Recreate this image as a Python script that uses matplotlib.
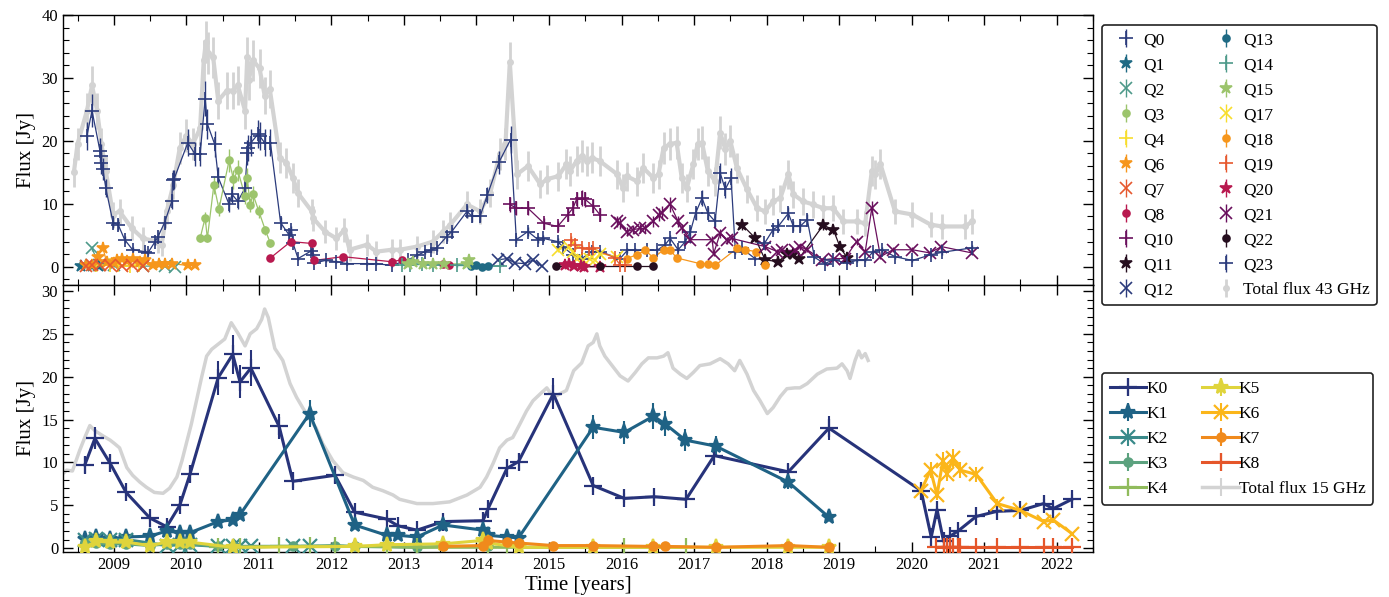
import matplotlib
matplotlib.use("Agg")
import matplotlib.pyplot as plt
import numpy as np
from matplotlib.ticker import MultipleLocator

plt.rcParams['font.family'] = ['Liberation Serif', 'DejaVu Serif']
plt.rcParams['font.size'] = 12

# ---------------- 43 GHz components (top panel) ----------------
TOT43_t = [2008.45, 2008.50, 2008.63, 2008.70, 2008.77, 2008.83, 2008.89, 2008.99, 2009.08, 2009.25,
           2009.40, 2009.61, 2009.66, 2009.73, 2009.82, 2009.91, 2010.00, 2010.09, 2010.19, 2010.24,
           2010.27, 2010.30, 2010.37, 2010.44, 2010.56, 2010.64, 2010.71, 2010.81, 2010.84, 2010.86,
           2010.92, 2011.01, 2011.08, 2011.15, 2011.29, 2011.38, 2011.47, 2011.54, 2011.73, 2011.75,
           2011.91, 2012.07, 2012.18, 2012.25, 2012.49, 2012.62, 2012.83, 2012.94, 2013.18, 2013.40,
           2013.54, 2013.64, 2013.87, 2014.05, 2014.19, 2014.32, 2014.40, 2014.46, 2014.56, 2014.71,
           2014.88, 2014.97, 2015.13, 2015.24, 2015.29, 2015.38, 2015.45, 2015.52, 2015.59, 2015.70,
           2015.94, 2016.02, 2016.07, 2016.21, 2016.30, 2016.44, 2016.51, 2016.58, 2016.67, 2016.76,
           2016.83, 2016.90, 2016.99, 2017.05, 2017.11, 2017.19, 2017.29, 2017.36, 2017.43, 2017.50,
           2017.59, 2017.73, 2017.87, 2017.98, 2018.09, 2018.19, 2018.30, 2018.37, 2018.50, 2018.64,
           2018.78, 2018.92, 2019.06, 2019.24, 2019.36, 2019.45, 2019.50, 2019.57, 2019.77, 2020.01,
           2020.26, 2020.42, 2020.74, 2020.83]
TOT43_f = [15.0, 19.5, 24.8, 28.8, 24.8, 19.5, 15.2, 8.3, 8.8, 6.1,
           4.5, 4.0, 3.5, 8.8, 13.0, 18.9, 20.8, 19.5, 22.0, 32.8,
           35.7, 34.0, 33.3, 26.4, 28.0, 28.0, 28.8, 24.8, 33.3, 29.6,
           32.8, 31.5, 27.2, 28.3, 17.3, 16.5, 14.1, 11.7, 8.8, 7.7,
           5.6, 4.5, 5.9, 2.7, 3.5, 2.4, 2.7, 2.7, 3.2, 4.0,
           5.6, 6.7, 9.9, 8.8, 11.7, 17.9, 19.5, 32.5, 14.7, 16.0,
           13.1, 13.9, 14.4, 16.3, 15.2, 16.8, 17.6, 16.8, 17.3, 16.8,
           14.7, 12.5, 14.4, 13.6, 15.7, 14.1, 14.7, 18.9, 19.5, 19.7,
           14.1, 12.5, 16.3, 19.5, 19.7, 15.2, 13.6, 21.3, 18.7, 20.0,
           15.7, 12.3, 9.3, 8.8, 10.4, 10.9, 14.7, 11.5, 10.4, 9.9,
           9.3, 9.3, 7.2, 7.2, 6.9, 15.2, 14.7, 16.3, 8.8, 8.3,
           6.7, 6.4, 6.4, 7.2]

Q0_t = [2008.63, 2008.70, 2008.81, 2008.82, 2008.83, 2008.85, 2008.89, 2008.99, 2009.06, 2009.15,
        2009.26, 2009.43, 2009.47, 2009.57, 2009.61, 2009.70, 2009.80, 2009.81, 2009.83, 2010.02,
        2010.12, 2010.19, 2010.26, 2010.29, 2010.39, 2010.44, 2010.59, 2010.63, 2010.71, 2010.81,
        2010.84, 2010.85, 2010.89, 2010.99, 2011.01, 2011.08, 2011.16, 2011.30, 2011.42, 2011.45,
        2011.47, 2011.54, 2011.72, 2011.75, 2011.76, 2011.92, 2012.07, 2012.21, 2012.49, 2012.62,
        2012.83, 2013.06, 2013.18, 2013.29, 2013.38, 2013.45, 2013.59, 2013.66, 2013.87, 2013.94,
        2014.05, 2014.15, 2014.31, 2014.47, 2014.55, 2014.71, 2014.85, 2014.92, 2015.12, 2015.19,
        2015.33, 2015.45, 2015.59, 2015.70, 2015.98, 2016.08, 2016.19, 2016.35, 2016.49, 2016.60,
        2016.67, 2016.78, 2016.88, 2016.95, 2017.02, 2017.11, 2017.19, 2017.29, 2017.36, 2017.43,
        2017.51, 2017.57, 2017.66, 2017.84]
Q0_f = [20.8, 24.8, 18.4, 17.6, 16.5, 15.5, 12.5, 7.0, 6.7, 4.3,
        2.7, 2.4, 2.2, 4.0, 4.8, 7.0, 10.4, 13.8, 13.9, 19.7,
        17.9, 17.9, 26.7, 22.7, 19.5, 14.2, 9.9, 11.5, 10.4, 12.5,
        18.1, 18.9, 19.7, 21.1, 20.8, 19.7, 19.7, 7.0, 5.0, 5.8,
        3.8, 1.3, 2.5, 1.9, 0.6, 1.0, 0.8, 0.5, 0.5, 0.5,
        0.2, 1.1, 1.8, 2.4, 2.7, 3.0, 4.8, 5.6, 8.8, 8.0,
        8.0, 11.4, 16.6, 20.2, 4.3, 5.6, 4.3, 4.5, 4.0, 3.2,
        1.9, 1.3, 2.4, 2.4, 1.3, 2.6, 2.6, 2.6, 2.6, 3.5,
        4.5, 2.7, 4.0, 5.6, 8.5, 10.9, 8.5, 7.2, 14.9, 12.3,
        14.1, 2.4, 2.9, 1.3]
Q1_t = [2008.55, 2008.62, 2008.70, 2008.80]
Q1_f = [0.1, 0.2, 0.1, 0.1]
Q2_t = [2008.70, 2008.80, 2009.00, 2009.40, 2009.70, 2009.85]
Q2_f = [2.9, 0.3, 0.2, 0.1, 0.1, 0.0]
Q3_t = [2010.19, 2010.26, 2010.29, 2010.38, 2010.45, 2010.59, 2010.65, 2010.71, 2010.81, 2010.84,
        2010.88, 2010.92, 2011.00, 2011.09, 2011.16]
Q3_f = [4.5, 7.8, 4.5, 13.0, 9.2, 16.9, 13.9, 15.3, 11.2, 14.1, 9.8, 11.5, 8.8, 5.8, 3.7]
Q4_t = [2008.75, 2008.95, 2009.06, 2009.22, 2009.35]
Q4_f = [0.3, 0.2, 0.2, 0.1, 0.3]
Q6_t = [2008.62, 2008.70, 2008.78, 2008.85, 2008.90, 2009.00, 2009.04, 2009.11, 2009.18, 2009.26,
        2009.36, 2009.43, 2009.54, 2009.62, 2009.71, 2009.80, 2010.02, 2010.12]
Q6_f = [0.2, 0.3, 1.6, 3.0, 0.8, 0.6, 1.1, 1.3, 0.9, 1.3, 0.8, 1.1, 0.3, 0.5, 0.5, 0.5, 0.2, 0.2]
Q7_t = [2008.62, 2008.70, 2008.81, 2008.95, 2009.11, 2009.25, 2009.40]
Q7_f = [0.1, 0.2, 0.3, 0.2, 0.1, 0.2, 0.1]
Q8_t = [2011.16, 2011.44, 2011.73, 2011.76, 2012.16, 2012.83, 2012.97, 2013.54, 2013.62]
Q8_f = [1.4, 4.0, 3.7, 1.0, 1.6, 0.8, 1.1, 0.4, 0.3]
Q10_t = [2014.46, 2014.55, 2014.71, 2014.93, 2015.12, 2015.26, 2015.33, 2015.38, 2015.45, 2015.50,
         2015.61, 2015.70]
Q10_f = [9.9, 9.3, 9.3, 6.9, 6.4, 8.3, 9.3, 10.7, 10.9, 10.7, 9.6, 8.3]
Q11_t = [2017.66, 2017.84, 2017.98, 2018.16, 2018.28, 2018.37, 2018.44, 2018.78, 2018.92, 2019.01, 2019.11]
Q11_f = [6.7, 4.6, 1.1, 0.8, 2.0, 2.1, 1.2, 6.6, 5.9, 3.2, 1.4]
Q12_t = [2014.30, 2014.42, 2014.53, 2014.67, 2014.78, 2014.90]
Q12_f = [1.1, 1.3, 0.6, 0.5, 1.1, 0.1]
Q13_t = [2013.92, 2014.00, 2014.08, 2014.16]
Q13_f = [0.1, 0.2, 0.0, 0.1]
Q14_t = [2012.97, 2013.08, 2013.25, 2013.40, 2013.73, 2014.32]
Q14_f = [0.3, 0.2, 0.4, 0.3, 0.2, 0.1]
Q15_t = [2013.05, 2013.13, 2013.26, 2013.40, 2013.55, 2013.87, 2013.90]
Q15_f = [0.4, 0.8, 0.5, 0.5, 0.4, 0.5, 1.0]
Q17_t = [2015.13, 2015.27, 2015.33, 2015.38, 2015.47, 2015.57, 2015.64, 2015.70, 2015.94]
Q17_f = [2.7, 3.2, 2.4, 1.3, 1.1, 1.3, 1.1, 2.1, 1.6]
Q18_t = [2016.07, 2016.21, 2016.33, 2016.44, 2016.58, 2016.67, 2016.76, 2017.08, 2017.19, 2017.29,
         2017.59, 2017.70, 2017.86, 2017.98]
Q18_f = [1.3, 1.9, 2.6, 1.4, 2.7, 2.7, 1.4, 0.5, 0.5, 0.2, 2.9, 2.7, 2.4, 0.3]
Q19_t = [2015.30, 2015.36, 2015.45, 2015.55, 2015.61, 2015.91, 2015.98, 2016.05]
Q19_f = [4.3, 3.4, 3.0, 2.8, 2.9, 1.4, 0.3, 0.3]
Q20_t = [2015.22, 2015.28, 2015.34, 2015.44, 2015.48, 2015.70]
Q20_f = [0.2, 0.4, 0.1, 0.1, 0.0, 0.0]
Q21_t = [2015.94, 2015.98, 2016.07, 2016.16, 2016.26, 2016.33, 2016.44, 2016.51, 2016.56, 2016.67,
         2016.78, 2016.83, 2016.95, 2017.25, 2017.27, 2017.36, 2017.45, 2017.52, 2017.98, 2018.15,
         2018.21, 2018.39, 2018.46, 2018.56, 2018.77, 2018.93, 2019.08, 2019.24, 2019.36, 2019.45,
         2019.57, 2019.74, 2020.01, 2020.25, 2020.41, 2020.83]
Q21_f = [7.2, 6.9, 5.6, 5.9, 6.1, 6.1, 7.2, 8.3, 8.6, 9.9,
         7.2, 6.1, 4.3, 4.3, 2.1, 5.3, 4.2, 4.5, 3.2, 2.4,
         2.6, 2.6, 3.2, 2.7, 1.1, 1.3, 1.3, 4.0, 2.4, 9.3,
         1.6, 2.7, 2.7, 2.2, 3.2, 2.2]
Q22_t = [2015.10, 2015.70, 2016.21, 2016.44]
Q22_f = [0.1, 0.1, 0.1, 0.1]
Q23_t = [2017.97, 2018.09, 2018.16, 2018.30, 2018.37, 2018.46, 2018.56, 2018.66, 2018.80, 2018.92,
         2019.11, 2019.24, 2019.36, 2019.47, 2019.59, 2019.77, 2020.01, 2020.26, 2020.42, 2020.83]
Q23_f = [3.7, 5.9, 6.4, 8.5, 6.4, 6.4, 7.5, 1.5, 0.5, 1.1,
         0.6, 1.0, 1.0, 2.4, 2.7, 1.6, 1.0, 1.9, 2.3, 3.0]

Q_names = ['Q0', 'Q1', 'Q2', 'Q3', 'Q4', 'Q6', 'Q7', 'Q8', 'Q10', 'Q11', 'Q12', 'Q13', 'Q14',
           'Q15', 'Q17', 'Q18', 'Q19', 'Q20', 'Q21', 'Q22', 'Q23']
Q_data = [(Q0_t, Q0_f), (Q1_t, Q1_f), (Q2_t, Q2_f), (Q3_t, Q3_f), (Q4_t, Q4_f), (Q6_t, Q6_f),
          (Q7_t, Q7_f), (Q8_t, Q8_f), (Q10_t, Q10_f), (Q11_t, Q11_f), (Q12_t, Q12_f),
          (Q13_t, Q13_f), (Q14_t, Q14_f), (Q15_t, Q15_f), (Q17_t, Q17_f), (Q18_t, Q18_f),
          (Q19_t, Q19_f), (Q20_t, Q20_f), (Q21_t, Q21_f), (Q22_t, Q22_f), (Q23_t, Q23_f)]

# ---------------- 15 GHz components (bottom panel) ----------------
TOT15_t = [2008.30, 2008.35, 2008.43, 2008.53, 2008.60, 2008.67, 2008.74, 2008.85, 2008.95, 2009.01,
           2009.08, 2009.18, 2009.26, 2009.36, 2009.45, 2009.56, 2009.68, 2009.77, 2009.87, 2009.94,
           2010.00, 2010.07, 2010.14, 2010.21, 2010.28, 2010.35, 2010.44, 2010.53, 2010.62, 2010.71,
           2010.81, 2010.88, 2010.97, 2011.04, 2011.08, 2011.13, 2011.22, 2011.33, 2011.43, 2011.52,
           2011.61, 2011.70, 2011.79, 2011.88, 2012.02, 2012.16, 2012.30, 2012.44, 2012.57, 2012.71,
           2012.85, 2012.94, 2013.18, 2013.40, 2013.63, 2013.87, 2014.05, 2014.14, 2014.23, 2014.32,
           2014.42, 2014.50, 2014.60, 2014.69, 2014.78, 2014.88, 2014.97, 2015.06, 2015.15, 2015.24,
           2015.34, 2015.45, 2015.54, 2015.61, 2015.66, 2015.70, 2015.77, 2015.87, 2015.98, 2016.09,
           2016.19, 2016.28, 2016.37, 2016.49, 2016.58, 2016.64, 2016.71, 2016.81, 2016.90, 2016.99,
           2017.08, 2017.22, 2017.36, 2017.47, 2017.56, 2017.63, 2017.73, 2017.82, 2017.91, 2018.01,
           2018.09, 2018.19, 2018.28, 2018.39, 2018.46, 2018.56, 2018.70, 2018.83, 2018.97, 2019.04,
           2019.11, 2019.15, 2019.22, 2019.27, 2019.31, 2019.36, 2019.40]
TOT15_f = [8.7, 9.1, 9.0, 11.4, 12.9, 14.3, 13.7, 13.1, 12.6, 12.2,
           11.7, 9.4, 8.5, 7.7, 7.1, 6.5, 6.4, 7.0, 8.3, 10.2,
           12.2, 14.5, 17.2, 19.9, 22.4, 23.2, 23.8, 24.4, 26.3, 25.1,
           23.6, 25.0, 25.6, 26.7, 27.9, 26.9, 23.3, 21.9, 19.2, 17.6,
           16.3, 15.1, 14.0, 12.2, 10.2, 8.8, 8.3, 7.9, 7.1, 6.7,
           6.2, 5.7, 5.2, 5.2, 5.4, 6.2, 7.1, 8.3, 9.9, 11.7,
           12.6, 12.9, 14.5, 16.0, 17.2, 18.0, 18.7, 17.6, 18.0, 18.4,
           20.7, 21.6, 23.6, 24.0, 25.0, 23.6, 22.4, 21.3, 20.1, 19.5,
           20.5, 21.5, 22.2, 22.2, 22.4, 22.8, 21.0, 20.3, 19.8, 20.5,
           21.3, 21.5, 22.1, 21.5, 20.7, 21.9, 20.3, 18.4, 17.2, 15.7,
           16.4, 17.7, 18.6, 18.7, 18.7, 19.2, 20.3, 20.9, 21.0, 21.5,
           20.7, 19.8, 21.9, 23.0, 22.2, 22.7, 21.9]

K0_t = [2008.60, 2008.74, 2008.95, 2009.17, 2009.50, 2009.73, 2009.91, 2010.05, 2010.44, 2010.64,
        2010.74, 2010.89, 2011.28, 2011.47, 2012.05, 2012.32, 2012.76, 2012.92, 2013.18, 2013.54,
        2014.09, 2014.16, 2014.42, 2014.58, 2015.06, 2015.61, 2016.04, 2016.45, 2016.89, 2017.28,
        2018.30, 2018.86, 2020.13, 2020.27, 2020.35, 2020.44, 2020.53, 2020.64, 2020.89, 2021.18,
        2021.50, 2021.82, 2021.95, 2022.21]
K0_f = [9.7, 12.8, 9.9, 6.5, 3.5, 2.5, 5.0, 8.6, 19.9, 22.6,
        19.4, 21.0, 14.2, 7.8, 8.5, 4.2, 3.4, 2.6, 2.1, 3.1,
        3.2, 4.6, 9.3, 10.1, 18.0, 7.3, 5.8, 6.0, 5.7, 10.8,
        8.9, 14.0, 6.7, 1.3, 4.5, 0.8, 1.4, 2.0, 3.7, 4.3,
        4.4, 5.2, 4.6, 5.7]
K1_t = [2008.60, 2008.76, 2008.95, 2009.17, 2009.50, 2009.73, 2009.91, 2010.05, 2010.44, 2010.64,
        2010.74, 2011.70, 2012.32, 2012.76, 2012.92, 2013.18, 2013.54, 2014.09, 2014.16, 2014.42,
        2014.58, 2015.61, 2016.04, 2016.44, 2016.60, 2016.88, 2017.30, 2018.30, 2018.86]
K1_f = [1.1, 1.3, 1.1, 1.3, 1.4, 2.0, 1.8, 1.8, 3.1, 3.3,
        3.9, 15.7, 2.7, 1.5, 1.5, 1.3, 2.7, 2.1, 1.5, 1.3,
        1.2, 14.1, 13.5, 15.4, 14.5, 12.6, 11.9, 7.7, 3.6]
K2_t = [2008.60, 2008.76, 2008.95, 2009.17, 2009.73, 2009.91, 2010.05, 2010.44, 2010.64, 2010.74,
        2010.89, 2011.47, 2011.70]
K2_f = [1.0, 1.1, 1.0, 1.0, 0.3, 0.4, 0.4, 0.2, 0.2, 0.2, 0.2, 0.2, 0.2]
K3_t = [2008.60, 2008.76, 2008.95, 2009.17, 2009.50, 2009.73, 2009.91, 2010.05, 2010.44, 2010.64,
        2011.47, 2012.05, 2012.32, 2013.18, 2013.54, 2014.16]
K3_f = [0.6, 0.6, 0.5, 0.5, 0.3, 0.5, 0.5, 0.5, 0.2, 0.2, 0.2, 0.3, 0.2, 0.1, 0.2, 0.2]
K4_t = [2010.44, 2010.74, 2011.28, 2011.70, 2012.05, 2012.76, 2013.18, 2014.16, 2014.42, 2016.04, 2016.89]
K4_f = [0.1, 0.1, 0.2, 0.2, 0.2, 0.2, 0.1, 0.1, 0.1, 0.1, 0.1]
K5_t = [2008.60, 2008.76, 2008.95, 2009.17, 2009.50, 2009.73, 2009.91, 2010.05, 2010.64, 2012.32,
        2012.76, 2013.54, 2014.09, 2014.16, 2014.58, 2015.61, 2016.44, 2017.30, 2018.30, 2018.86]
K5_f = [0.1, 0.8, 0.7, 0.7, 0.3, 0.7, 0.7, 0.7, 0.1, 0.2,
        0.4, 0.5, 0.9, 0.6, 0.1, 0.1, 0.1, 0.1, 0.1, 0.1]
K6_t = [2020.13, 2020.26, 2020.35, 2020.43, 2020.49, 2020.57, 2020.67, 2020.89, 2021.18, 2021.50,
        2021.82, 2021.95, 2022.21]
K6_f = [6.7, 9.1, 6.2, 10.2, 8.7, 10.5, 9.1, 8.6, 5.2, 4.4, 3.1, 3.3, 1.7]
K7_t = [2013.54, 2014.09, 2014.16, 2014.42, 2014.58, 2015.06, 2015.61, 2016.44, 2016.60, 2017.30,
        2018.30, 2018.86]
K7_f = [0.2, 0.3, 0.9, 0.7, 0.6, 0.3, 0.3, 0.2, 0.2, 0.1, 0.3, 0.1]
K8_t = [2020.33, 2020.44, 2020.49, 2020.53, 2020.57, 2020.64, 2020.67, 2020.89, 2021.18, 2021.50,
        2021.82, 2021.95, 2022.21]
K8_f = [0.15, 0.15, 0.15, 0.15, 0.15, 0.15, 0.15, 0.15, 0.15, 0.15, 0.15, 0.15, 0.15]

K_names = ['K0', 'K1', 'K2', 'K3', 'K4', 'K5', 'K6', 'K7', 'K8']
K_data = [(K0_t, K0_f), (K1_t, K1_f), (K2_t, K2_f), (K3_t, K3_f), (K4_t, K4_f),
          (K5_t, K5_f), (K6_t, K6_f), (K7_t, K7_f), (K8_t, K8_f)]

REL_ERR = 0.10

# ---------------- styles ----------------
Q_colors = ['#2b3b7c', '#1f6a84', '#4e9a8a', '#9cc46c', '#f7dd2c', '#f6961c',
            '#e6582e', '#b8194f', '#6a0f5d', '#260e1f']
K_colors = ['#27337a', '#1f6285', '#3a8a8a', '#5ca27f', '#90bb5c', '#dfd43c',
            '#fbb61a', '#f08a1c', '#e5562a']
markers = ['+', '*', 'x', 'o']

fig = plt.figure(figsize=(13.89, 5.97), dpi=100)
ax1 = fig.add_axes([63/1389, 1-285/597, (1093-63)/1389, 270/597])
ax2 = fig.add_axes([63/1389, 1-552/597, (1093-63)/1389, 267/597], sharex=ax1)

GRAY = '#d3d3d3'

# Top panel
t43 = np.array(TOT43_t); f43 = np.array(TOT43_f)
ax1.errorbar(t43, f43, yerr=1.6 + 0.05*f43, fmt='o', ms=4, color=GRAY, ecolor=GRAY,
             elinewidth=2, label='Total flux 43 GHz', zorder=1)
ax1.plot(t43, f43, '-', color=GRAY, lw=3, zorder=1)

for i, (name, (t, f)) in enumerate(zip(Q_names, Q_data)):
    c = Q_colors[i % len(Q_colors)]
    m = markers[i % 4]
    t = np.array(t); f = np.array(f)
    ms = {'+': 10, '*': 9, 'x': 8, 'o': 5}[m]
    ax1.plot(t, f, '-', color=c, lw=0.9, zorder=2)
    ax1.errorbar(t, f, yerr=REL_ERR*f + 0.15, fmt=m, ms=ms, mew=1.2, color=c, ecolor=c,
                 elinewidth=1, ls='none', label=name, zorder=3)

# Bottom panel
t15 = np.array(TOT15_t); f15 = np.array(TOT15_f)
ax2.errorbar(t15, f15, yerr=0*f15, fmt='-', color=GRAY, lw=2.5, ecolor=GRAY,
             elinewidth=1.5, label='Total flux 15 GHz', zorder=1)
for i, (name, (t, f)) in enumerate(zip(K_names, K_data)):
    c = K_colors[i]
    m = markers[i % 4]
    t = np.array(t); f = np.array(f)
    ms = {'+': 13, '*': 11, 'x': 10, 'o': 6}[m]
    ax2.errorbar(t, f, yerr=REL_ERR*f, fmt='-' + m, ms=ms, mew=1.6, lw=2.2, color=c, ecolor=c,
                 elinewidth=1.5, label=name, zorder=3)

for ax in (ax1, ax2):
    ax.tick_params(which='both', direction='in', top=True, right=True, labelsize=12)
    ax.tick_params(which='major', length=7, width=1)
    ax.tick_params(which='minor', length=4, width=0.8)
    ax.xaxis.set_major_locator(MultipleLocator(1))
    ax.xaxis.set_minor_locator(MultipleLocator(0.5))
    for s in ax.spines.values():
        s.set_linewidth(1.0)

ax1.set_xlim(2008.3, 2022.5)
ax1.set_ylim(-2.9, 40)
ax1.yaxis.set_major_locator(MultipleLocator(10))
ax1.yaxis.set_minor_locator(MultipleLocator(2))
ax1.tick_params(labelbottom=False)
ax2.set_ylim(-0.45, 30.7)
ax2.yaxis.set_major_locator(MultipleLocator(5))
ax2.yaxis.set_minor_locator(MultipleLocator(1))

ax1.set_ylabel('Flux [Jy]', fontsize=15)
ax2.set_ylabel('Flux [Jy]', fontsize=15)
ax2.set_xlabel('Time [years]', fontsize=15, labelpad=2)
fig.align_ylabels([ax1, ax2])

# legends
h1, l1 = ax1.get_legend_handles_labels()
order1 = l1[1:] + [l1[0]]
hord1 = h1[1:] + [h1[0]]
leg1 = fig.legend(hord1, order1, ncol=2, loc='upper left', bbox_to_anchor=(1102/1389, 1-25/597),
                  fontsize=12.5, handletextpad=0.0, handlelength=2.0, columnspacing=2.0,
                  frameon=True, fancybox=True, borderaxespad=0.0, borderpad=0.4, labelspacing=0.51)
leg1.get_frame().set_edgecolor('#222222')
leg1.get_frame().set_linewidth(1.2)
leg1.get_frame().set_alpha(1)

h2, l2 = ax2.get_legend_handles_labels()
order2 = l2[1:] + [l2[0]]
hord2 = h2[1:] + [h2[0]]
leg2 = fig.legend(hord2, order2, ncol=2, loc='upper left', bbox_to_anchor=(1102/1389, 1-373/597),
                  fontsize=12.5, handletextpad=0.0, handlelength=2.1, columnspacing=2.0,
                  frameon=True, fancybox=True, borderaxespad=0.0, borderpad=0.45, labelspacing=0.51)
leg2.get_frame().set_edgecolor('#222222')
leg2.get_frame().set_linewidth(1.2)
leg2.get_frame().set_alpha(1)

fig.savefig('out.png', dpi=100)
